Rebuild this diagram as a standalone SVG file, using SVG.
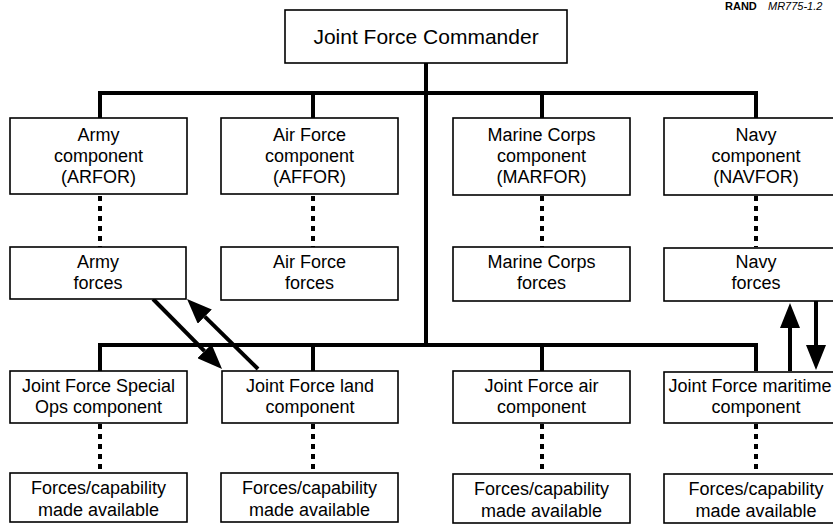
<svg xmlns="http://www.w3.org/2000/svg" width="833" height="525" viewBox="0 0 833 525">
<style>
.box{fill:#fff;stroke:#000;stroke-width:1.6}
.t{font-family:"Liberation Sans",Arial,Helvetica,sans-serif;font-size:18px;fill:#000;text-anchor:middle}
.title{font-size:21px}
.solid{stroke:#000;stroke-width:4;fill:none}
.dot{stroke:#000;stroke-width:4;fill:none;stroke-dasharray:5 5}
.arr{stroke:#000;stroke-width:4;fill:none;marker-end:url(#ah)}
</style>
<defs>
<marker id="ah" markerUnits="userSpaceOnUse" markerWidth="26" markerHeight="20" refX="0" refY="10" orient="auto">
<path d="M0,0 L25,10 L0,20 z" fill="#000"/>
</marker>
</defs>
<rect width="833" height="525" fill="#fff"/>
<text x="725" y="10" font-family="Liberation Sans,Arial,sans-serif" font-size="11" font-weight="bold">RAND</text>
<text x="768" y="10" font-family="Liberation Sans,Arial,sans-serif" font-size="11" font-style="italic">MR775-1.2</text>

<g id="connectors">
<path class="solid" d="M426,63 V345"/>
<path class="solid" d="M100,118 V93 H756 V118"/>
<path class="solid" d="M313,93 V118 M542,93 V118"/>
<path class="solid" d="M100,371 V345 H756 V371"/>
<path class="solid" d="M313,345 V371 M542,345 V371"/>
<path class="dot" d="M100,196 V247 M313,196 V247 M542,196 V247 M756,196 V247"/>
<path class="dot" d="M100,424 V473 M313,424 V473 M542,424 V473 M756,424 V473"/>
<path class="arr" d="M153,299 L204.5,351.2"/>
<path class="arr" d="M258,369 L204.8,316.6"/>
<path class="arr" d="M790,371 V328"/>
<path class="arr" d="M816,301 V345"/>
</g>

<g id="jfc"><rect class="box" x="285" y="10" width="282" height="53"/><text class="t title" x="426" y="44">Joint Force Commander</text></g>

<g id="army-comp"><rect class="box" x="10" y="118" width="177" height="76"/><text class="t" x="98.5" y="141">Army</text><text class="t" x="98.5" y="162">component</text><text class="t" x="98.5" y="183">(ARFOR)</text></g>
<g id="af-comp"><rect class="box" x="221" y="118" width="177" height="76"/><text class="t" x="309.5" y="141">Air Force</text><text class="t" x="309.5" y="162">component</text><text class="t" x="309.5" y="183">(AFFOR)</text></g>
<g id="mc-comp"><rect class="box" x="453" y="118" width="177" height="77"/><text class="t" x="541.5" y="141">Marine Corps</text><text class="t" x="541.5" y="162">component</text><text class="t" x="541.5" y="183">(MARFOR)</text></g>
<g id="navy-comp"><rect class="box" x="664" y="118" width="184" height="77"/><text class="t" x="756" y="141">Navy</text><text class="t" x="756" y="162">component</text><text class="t" x="756" y="183">(NAVFOR)</text></g>

<g id="army-forces"><rect class="box" x="10" y="247" width="176" height="52"/><text class="t" x="98" y="268">Army</text><text class="t" x="98" y="289">forces</text></g>
<g id="af-forces"><rect class="box" x="221" y="247" width="177" height="53"/><text class="t" x="309.5" y="268">Air Force</text><text class="t" x="309.5" y="289">forces</text></g>
<g id="mc-forces"><rect class="box" x="453" y="247" width="177" height="54"/><text class="t" x="541.5" y="268">Marine Corps</text><text class="t" x="541.5" y="289">forces</text></g>
<g id="navy-forces"><rect class="box" x="664" y="248" width="184" height="53"/><text class="t" x="756" y="268">Navy</text><text class="t" x="756" y="289">forces</text></g>

<g id="jf-sof"><rect class="box" x="10" y="371" width="177" height="52"/><text class="t" x="98.5" y="392">Joint Force Special</text><text class="t" x="98.5" y="413">Ops component</text></g>
<g id="jf-land"><rect class="box" x="222" y="371" width="176" height="52"/><text class="t" x="310" y="392">Joint Force land</text><text class="t" x="310" y="413">component</text></g>
<g id="jf-air"><rect class="box" x="453" y="371" width="177" height="52"/><text class="t" x="541.5" y="392">Joint Force air</text><text class="t" x="541.5" y="413">component</text></g>
<g id="jf-mar"><rect class="box" x="664" y="372" width="184" height="51"/><text class="t" x="750" y="392" font-size="17">Joint Force maritime</text><text class="t" x="756" y="413">component</text></g>

<g id="fc-sof"><rect class="box" x="10" y="473" width="177" height="49"/><text class="t" x="98.5" y="494">Forces/capability</text><text class="t" x="98.5" y="516">made available</text></g>
<g id="fc-land"><rect class="box" x="221" y="473" width="177" height="49"/><text class="t" x="309.5" y="494">Forces/capability</text><text class="t" x="309.5" y="516">made available</text></g>
<g id="fc-air"><rect class="box" x="453" y="474" width="177" height="49"/><text class="t" x="541.5" y="495">Forces/capability</text><text class="t" x="541.5" y="517">made available</text></g>
<g id="fc-mar"><rect class="box" x="664" y="474" width="184" height="49"/><text class="t" x="756" y="495">Forces/capability</text><text class="t" x="756" y="517">made available</text></g>
</svg>
